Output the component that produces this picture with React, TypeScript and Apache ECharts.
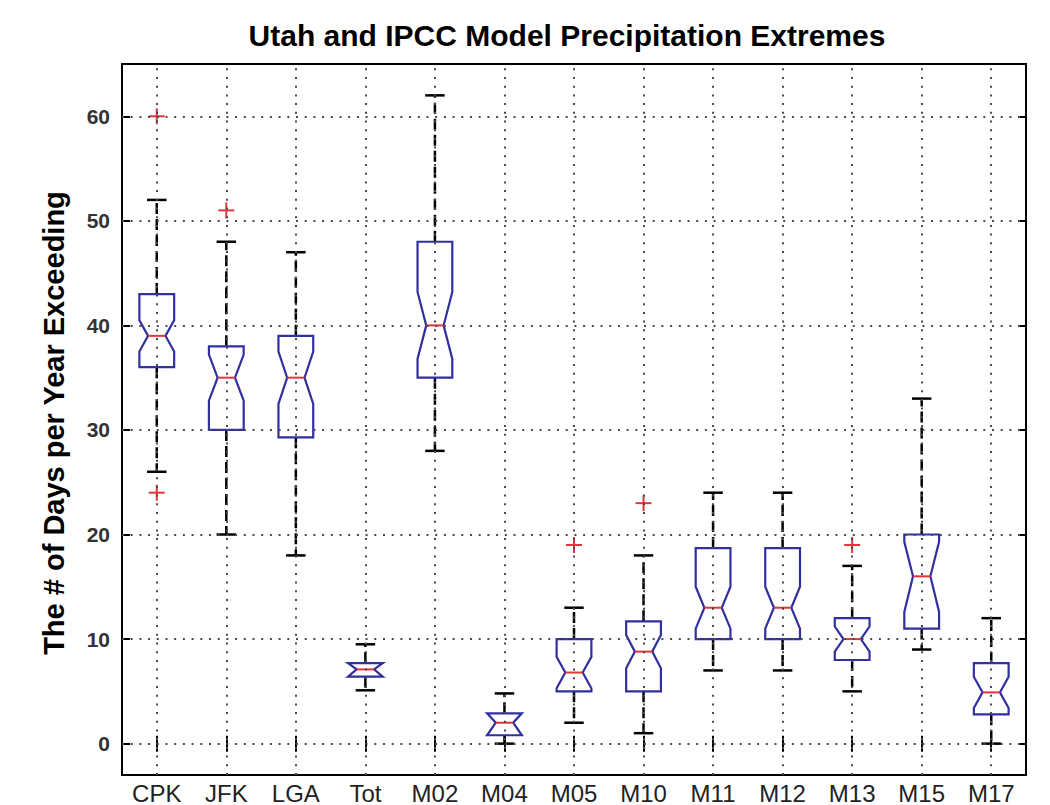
import React, { useEffect, useRef } from 'react';
import * as echarts from 'echarts';

// ---- data ----
const categories = ['CPK', 'JFK', 'LGA', 'Tot', 'M02', 'M04', 'M05', 'M10', 'M11', 'M12', 'M13', 'M15', 'M17'];
const lowerWhisker = [26, 20, 18, 5.1, 28, 0, 2, 1, 7, 7, 5, 9, 0];
const q1 = [36, 30, 29.3, 6.4, 35, 0.8, 5, 5, 10, 10, 8, 11, 2.8];
const notchLow = [37.5, 32.8, 32.5, 6.4, 36.8, 0.8, 5.3, 7.2, 11, 11, 8.8, 12.6, 3.4];
const median = [39, 35, 35, 7.1, 40, 2, 6.8, 8.8, 13, 13, 10, 16, 4.9];
const notchHigh = [40.5, 37.2, 37.5, 7.7, 43.2, 2.9, 8.3, 10.4, 15, 15, 11.2, 19.3, 6.4];
const q3 = [43, 38, 39, 7.7, 48, 2.9, 10, 11.7, 18.7, 18.7, 12, 20, 7.7];
const upperWhisker = [52, 48, 47, 9.5, 62, 4.8, 13, 18, 24, 24, 17, 33, 12];
const outlierCategories = ['CPK', 'CPK', 'JFK', 'M05', 'M10', 'M13'];
const outlierValues = [60, 24, 51, 19, 23, 19];
const yTicks = [0, 10, 20, 30, 40, 50, 60];
const yMin = -3;
const yMax = 65;

const titleText = 'Utah and IPCC Model Precipitation Extremes';
const yAxisTitle = 'The # of Days per Year Exceeding';

const BLUE = '#30309e';
const RED = '#e0353b';
const GRID_DOT = '#4a4a4a';

export default function App() {
  const ref = useRef<HTMLDivElement>(null);

  useEffect(() => {
    const chart = echarts.init(ref.current as HTMLDivElement, null, { renderer: 'svg' });

    const boxData = categories.map((_, i) => [
      i, lowerWhisker[i], q1[i], notchLow[i], median[i], notchHigh[i], q3[i], upperWhisker[i],
    ]);
    const outlierData = outlierCategories.map((c, i) => [categories.indexOf(c), outlierValues[i]]);

    const dotted = { color: GRID_DOT, width: 2, type: [2, 6.7] as any };

    const option: any = {
      animation: false,
      backgroundColor: '#ffffff',
      grid: {
        left: 122,
        top: 64,
        width: 904,
        height: 713,
        show: true,
        borderColor: '#000',
        borderWidth: 2,
        backgroundColor: '#fff',
        containLabel: false,
      },
      xAxis: [
        {
          type: 'category',
          data: categories,
          position: 'bottom',
          boundaryGap: true,
          axisLine: { show: false },
          axisTick: { show: true, inside: true, alignWithLabel: true, length: 8, lineStyle: { color: '#000', width: 2 } },
          axisLabel: { color: '#222', fontSize: 24, fontFamily: 'Liberation Sans, Arial, sans-serif', margin: 6, interval: 0 },
          splitLine: { show: false },
        },
        {
          type: 'category',
          data: categories,
          position: 'top',
          boundaryGap: true,
          axisLine: { show: false },
          axisTick: { show: true, inside: true, alignWithLabel: true, length: 8, lineStyle: { color: '#000', width: 2 } },
          axisLabel: { show: false },
          splitLine: { show: false },
        },
      ],
      yAxis: [
        {
          type: 'value',
          min: yMin,
          max: yMax,
          position: 'left',
          axisLine: { show: false },
          axisTick: { show: true, inside: true, length: 8, customValues: yTicks, lineStyle: { color: '#000', width: 2 } },
          axisLabel: {
            customValues: yTicks,
            color: '#333',
            fontSize: 21,
            fontWeight: 'bold',
            fontFamily: 'Liberation Sans, Arial, sans-serif',
            margin: 12,
          },
          splitLine: { show: false },
        },
        {
          type: 'value',
          min: yMin,
          max: yMax,
          position: 'right',
          axisLine: { show: false },
          axisTick: { show: true, inside: true, length: 8, customValues: yTicks, lineStyle: { color: '#000', width: 2 } },
          axisLabel: { show: false },
          splitLine: { show: false },
        },
      ],
      graphic: [
        {
          type: 'text',
          x: 567,
          y: 35,
          style: {
            text: titleText,
            fill: '#000',
            font: 'bold 30px "Liberation Sans", Arial, sans-serif',
            align: 'center',
            verticalAlign: 'middle',
          },
        },
        {
          type: 'text',
          x: 54,
          y: 423,
          rotation: Math.PI / 2,
          style: {
            text: yAxisTitle,
            fill: '#000',
            font: 'bold 29px "Liberation Sans", Arial, sans-serif',
            align: 'center',
            verticalAlign: 'middle',
          },
        },
      ],
      series: [
        {
          type: 'line',
          xAxisIndex: 0,
          yAxisIndex: 0,
          data: [],
          z: 1,
          silent: true,
          markLine: {
            silent: true,
            symbol: ['none', 'none'],
            label: { show: false },
            lineStyle: dotted,
            emphasis: { disabled: true },
            data: [
              ...yTicks.map((v) => ({ yAxis: v })),
              ...categories.map((c) => ({ xAxis: c })),
            ],
          },
        },
        {
          type: 'custom',
          xAxisIndex: 0,
          yAxisIndex: 0,
          z: 3,
          silent: true,
          data: boxData,
          encode: { x: 0, y: [1, 2, 3, 4, 5, 6, 7] },
          renderItem: (params: any, api: any) => {
            const idx = api.value(0);
            const bw = api.size([1, 0])[0];
            const hw = bw * 0.25;
            const nw = bw * 0.125;
            const cw = bw * 0.14;
            const cx = api.coord([idx, api.value(4)])[0];
            const y = (d: number) => api.coord([idx, api.value(d)])[1];
            const yLw = y(1), yQ1 = y(2), yNl = y(3), yMed = y(4), yNh = y(5), yQ3 = y(6), yUw = y(7);
            const whiskerStyle = { stroke: '#000', lineWidth: 2.5, lineDash: [11, 5] };
            const capStyle = { stroke: '#000', lineWidth: 2.5 };
            return {
              type: 'group',
              children: [
                { type: 'line', shape: { x1: cx, y1: yQ3, x2: cx, y2: yUw }, style: whiskerStyle },
                { type: 'line', shape: { x1: cx, y1: yQ1, x2: cx, y2: yLw }, style: whiskerStyle },
                { type: 'line', shape: { x1: cx - cw, y1: yUw, x2: cx + cw, y2: yUw }, style: capStyle },
                { type: 'line', shape: { x1: cx - cw, y1: yLw, x2: cx + cw, y2: yLw }, style: capStyle },
                {
                  type: 'polygon',
                  shape: {
                    points: [
                      [cx - hw, yQ3], [cx - hw, yNh], [cx - nw, yMed], [cx - hw, yNl], [cx - hw, yQ1],
                      [cx + hw, yQ1], [cx + hw, yNl], [cx + nw, yMed], [cx + hw, yNh], [cx + hw, yQ3],
                    ],
                  },
                  style: { fill: 'none', stroke: BLUE, lineWidth: 2.2 },
                },
                { type: 'line', shape: { x1: cx - nw, y1: yMed, x2: cx + nw, y2: yMed }, style: { stroke: RED, lineWidth: 2 } },
              ],
            };
          },
        },
        {
          type: 'custom',
          xAxisIndex: 0,
          yAxisIndex: 0,
          z: 4,
          silent: true,
          data: outlierData,
          encode: { x: 0, y: 1 },
          renderItem: (params: any, api: any) => {
            const p = api.coord([api.value(0), api.value(1)]);
            const s = 8;
            const st = { stroke: RED, lineWidth: 2 };
            return {
              type: 'group',
              children: [
                { type: 'line', shape: { x1: p[0] - s, y1: p[1], x2: p[0] + s, y2: p[1] }, style: st },
                { type: 'line', shape: { x1: p[0], y1: p[1] - s, x2: p[0], y2: p[1] + s }, style: st },
              ],
            };
          },
        },
      ],
    };

    chart.setOption(option);
    return () => chart.dispose();
  }, []);

  return (
    <div
      ref={ref}
      style={{ position: 'fixed', left: 0, top: 0, width: 1050, height: 805, background: '#fff' }}
    />
  );
}
